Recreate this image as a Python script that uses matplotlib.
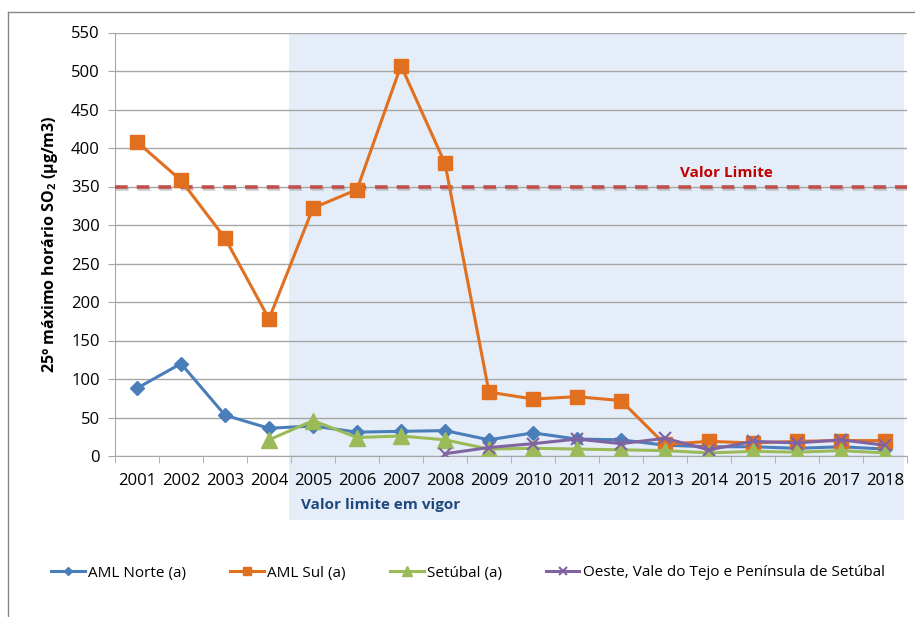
import matplotlib
matplotlib.use("Agg")
import matplotlib.pyplot as plt
import matplotlib.patheffects as pe
from matplotlib.patches import Rectangle
from matplotlib.lines import Line2D

plt.rcParams['font.family'] = ['Open Sans', 'DejaVu Sans']
plt.rcParams['mathtext.fontset'] = 'custom'
plt.rcParams['mathtext.rm'] = 'Open Sans'
plt.rcParams['mathtext.bf'] = 'Open Sans:bold'

years = ["2001", "2002", "2003", "2004", "2005", "2006", "2007", "2008", "2009",
         "2010", "2011", "2012", "2013", "2014", "2015", "2016", "2017", "2018"]
aml_norte = [88, 120, 53, 36, 39, 31, 32, 33, 21, 30, 22, 21, 14, 12, 12, 10, 12, 9]
aml_sul = [408, 358, 283, 178, 322, 346, 507, 380, 83, 74, 77, 72, 15, 19, 17, 19, 20, 20]
setubal = [None, None, None, 21, 46, 24, 26, 21, 9, 10, 9, 8, 7, 4, 6, 5, 7, 4]
oeste = [None, None, None, None, None, None, None, 3, 11, 16, 22, 16, 23, 8, 19, 17, 21, 14]
valor_limite = 350
yticks = list(range(0, 551, 50))

W, H = 915, 617
fig = plt.figure(figsize=(W / 100, H / 100), dpi=100)

# chart frame
fig.add_artist(Line2D([8 / W, 8 / W], [0, 1 - 12 / H], transform=fig.transFigure, color='#888888', lw=1.0))
fig.add_artist(Line2D([8 / W, 1], [1 - 12 / H, 1 - 12 / H], transform=fig.transFigure, color='#888888', lw=1.0))

# shaded region
fig.add_artist(Rectangle((289 / W, 1 - 520 / H), (904 - 289) / W, (520 - 32.5) / H,
                         transform=fig.transFigure, facecolor='#E5EDF8', edgecolor='none', zorder=0))

ax = fig.add_axes([115 / W, 1 - 456 / H, (907 - 115) / W, (456 - 32.5) / H])
ax.patch.set_alpha(0)

x = list(range(len(years)))

def series(vals):
    xs = [i for i, v in zip(x, vals) if v is not None]
    ys = [v for v in vals if v is not None]
    return xs, ys

c_norte = '#4A7EBB'
c_sul = '#E07020'
c_set = '#9BBB59'
c_oes = '#8064A2'

xs, ys = series(aml_norte)
ax.plot(xs, ys, color=c_norte, lw=2.2, marker='D', ms=7, zorder=5, label='AML Norte (a)')
xs, ys = series(aml_sul)
ax.plot(xs, ys, color=c_sul, lw=2.2, marker='s', ms=10, zorder=5, label='AML Sul (a)')
xs, ys = series(setubal)
ax.plot(xs, ys, color=c_set, lw=2.2, marker='^', ms=11, zorder=5, label='Setúbal (a)')
xs, ys = series(oeste)
ax.plot(xs, ys, color=c_oes, lw=2.2, marker='x', ms=9, mew=1.5, zorder=6, label='Oeste, Vale do Tejo e Península de Setúbal')

# limit line
ax.axhline(valor_limite, color='#C0504D', lw=2.6, dashes=(3.5, 2.5), zorder=4,
           path_effects=[pe.SimpleLineShadow(offset=(0.5, -1.5), shadow_color='#999999', alpha=0.5), pe.Normal()])
ax.text(13.4, 358, 'Valor Limite', color='#C00000', fontweight='bold', fontsize=11, ha='center', va='bottom')

ax.set_xlim(-0.5, len(years) - 0.5)
ax.set_ylim(0, 550)
ax.set_yticks(yticks)
ax.set_yticklabels([str(v) for v in yticks], fontsize=12)
ax.grid(axis='y', color='#A6A6A6', lw=1.0, zorder=1)
ax.set_axisbelow(True)

ax.set_xticks(x)
ax.set_xticklabels(years, fontsize=12)
ax.set_xticks([i - 0.5 for i in range(len(years) + 1)], minor=True)
ax.tick_params(axis='x', which='major', length=0, pad=12)
ax.tick_params(axis='x', which='minor', length=5, color='#A6A6A6')
ax.tick_params(axis='y', length=5, color='#A6A6A6', pad=6)

for s in ['top', 'right']:
    ax.spines[s].set_visible(False)
ax.spines['left'].set_color('#A6A6A6')
ax.spines['bottom'].set_color('#A6A6A6')

ax.set_ylabel(r'25º máximo horário SO$_{\mathbf{2}}$ (µg/m3)', fontsize=11.5, fontweight='bold', labelpad=8)

fig.text(381 / W, 1 - 505 / H, 'Valor limite em vigor', color='#1F497D', fontweight='bold',
         fontsize=11, ha='center', va='center')

fig.legend(loc='center', bbox_to_anchor=(468 / W, 1 - 573 / H), ncol=4, frameon=False,
           fontsize=11, handlelength=2.2, handletextpad=0.2, columnspacing=2.9, markerscale=0.6)

fig.savefig('out.png', dpi=100)
